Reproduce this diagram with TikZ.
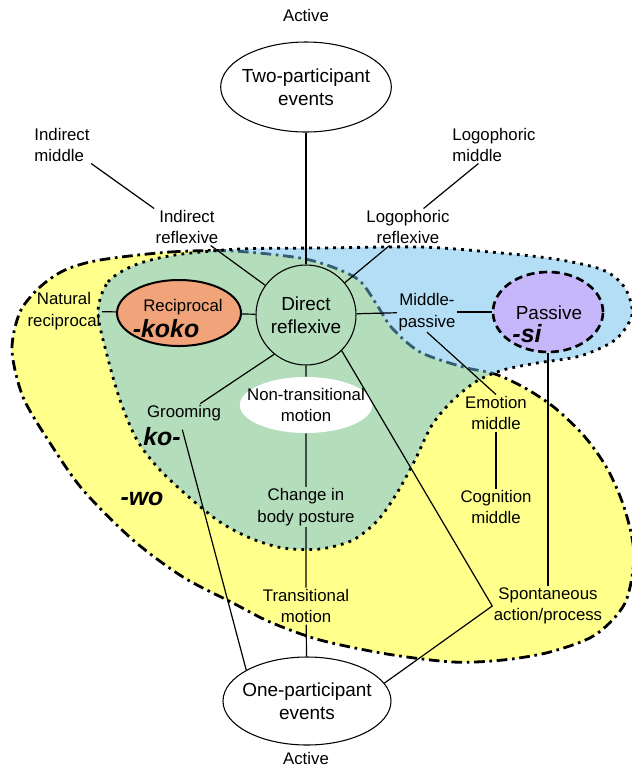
\documentclass[tikz,border=0pt]{standalone}
\usepackage{fontspec}
\setmainfont{Liberation Sans}
\usepackage{tikz}
\usetikzlibrary{shapes.geometric}

\definecolor{yel}{RGB}{255,255,140}
\definecolor{sky}{RGB}{105,189,235}
\definecolor{peach}{RGB}{241,164,122}
\definecolor{lilac}{RGB}{197,183,250}

\tikzset{
    lbl/.style = {align = center, inner sep = 1pt, font = \fontsize{12.6}{16.1}\selectfont},
    big/.style = {align = center, font = \fontsize{14.2}{17.3}\selectfont},
    suffix/.style = {inner sep = 1pt, font = \fontsize{18.7}{20}\selectfont\bfseries\itshape},
    event/.style = {draw, ellipse, big, line width = 0.8pt, inner xsep = -4pt, inner ysep = 0pt},
    link/.style = {line width = 0.9pt}
}

\begin{document}
\begin{tikzpicture}[x = 0.75pt, y = -0.75pt]
    \useasboundingbox (0, 0) rectangle (632, 769);

    % -wo area and the blue area over it
    \filldraw[fill = yel, line width = 2.1pt, dash pattern = on 8pt off 3.5pt on 2pt off 3.5pt]
        plot[smooth cycle] coordinates {(100, 260) (170, 252) (233, 251) (300, 258) (335, 268)
        (360, 281) (377, 305) (392, 328) (420, 352) (463, 367) (495, 374) (525, 388) (555, 408)
        (585, 437) (608, 470) (625, 510) (634, 555) (625, 603) (595, 635) (550, 652) (503, 660)
        (453, 662) (387, 654) (320, 640) (270, 622) (233, 603) (183, 577) (133, 540) (83, 490)
        (50, 443) (23, 397) (12, 350) (20, 312) (40, 287) (65, 270)};
    \filldraw[fill = sky, fill opacity = 0.5, line width = 2.1pt, dash pattern = on 2.1pt off 3.9pt]
        plot[smooth cycle] coordinates {(98, 312) (108, 282) (135, 265) (175, 255) (240, 249)
        (320, 248) (420, 247) (490, 252) (555, 259) (603, 270) (625, 288) (632, 315) (615, 340)
        (580, 356) (537, 363) (503, 370) (477, 381) (453, 400) (432, 425) (415, 460) (397, 493)
        (378, 520) (353, 540) (320, 549) (283, 548) (250, 538) (220, 522) (190, 498) (160, 470)
        (137, 440) (120, 400) (107, 355)};

    \node[lbl] (acttop) at (306, 15) {Active};
    \node[event, minimum width = 128pt, minimum height = 67.5pt] (two) at (306, 87) {Two-participant\\events};
    \node[lbl, align = left] (imid) at (62, 145) {Indirect\\middle};
    \node[lbl, align = left] (lmid) at (494, 145) {Logophoric\\middle};
    \node[lbl] (iref) at (187, 227) {Indirect\\reflexive};
    \node[lbl] (lref) at (408, 227) {Logophoric\\reflexive};

    \node[draw, circle, big, line width = 0.8pt, minimum size = 75pt, inner sep = 0pt] (dref) at (306, 315) {Direct\\reflexive};
    \node[draw, ellipse, fill = peach, line width = 1.5pt, minimum width = 93pt, minimum height = 49.5pt] (recip) at (179, 313) {};
    \node[lbl] (reciptxt) at (183, 307) {Reciprocal};
    \node[suffix] (koko) at (166, 329) {-koko};
    \node[lbl] (nrec) at (64, 311) {Natural\\reciprocal};
    \node[lbl] (mpass) at (427, 312) {Middle-\\passive};
    \node[draw, ellipse, fill = lilac, line width = 2pt, dash pattern = on 6pt off 3.5pt,
        minimum width = 82.5pt, minimum height = 60pt] (pass) at (548, 312) {};
    \node[big] (passtxt) at (549, 313) {Passive};
    \node[suffix] (si) at (527, 334) {-si};

    \node[lbl] (groom) at (184, 413) {Grooming};
    \node[suffix] (ko) at (162, 437) {ko-};
    \node[suffix] (wo) at (142, 499) {-wo};
    \node[lbl, ellipse, fill = white, inner xsep = -9pt, inner ysep = 0pt,
        minimum width = 99pt, minimum height = 42pt] (nontr) at (306, 405) {Non-transitional\\motion};
    \node[lbl] (emo) at (496, 413) {Emotion\\middle};
    \node[lbl] (cog) at (496, 507) {Cognition\\middle};
    \node[lbl] (change) at (306, 507) {Change in\\body posture};
    \node[lbl] (trans) at (306, 606) {Transitional\\motion};
    \node[lbl] (spont) at (548, 606) {Spontaneous\\action/process};
    \node[event, minimum width = 126pt, minimum height = 66pt] (one) at (307, 701) {One-participant\\events};
    \node[lbl] (actbot) at (306, 758) {Active};

    % connections
    \draw[link] (two) -- (dref);
    \draw[link] (imid.south east) -- (iref.north west);
    \draw[link] (lmid.230) -- (lref.50);
    \draw[link] (iref.-38) -- (dref);
    \draw[link] (lref.225) -- (dref);
    \draw[link] (nrec) -- (recip);
    \draw[link] (recip) -- (dref);
    \draw[link] (dref) -- (mpass);
    \draw[link] (mpass) -- (pass);
    \draw[link] (mpass.south) -- (emo.north);
    \draw[link] (emo) -- (cog);
    \draw[link] (pass) -- (spont);
    \draw[link] (dref.-45) -- (spont.west) -- (one.13);
    \draw[link] (dref.231) -- (groom.30);
    \draw[link] (ko.20) -- (one.153);
    \draw[link] (dref) -- (nontr) (nontr) -- (change) (change) -- (trans) (trans) -- (one);
\end{tikzpicture}
\end{document}
